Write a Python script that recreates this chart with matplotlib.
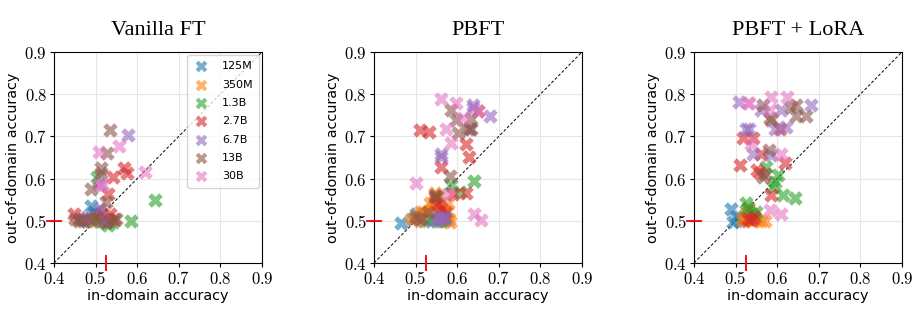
import matplotlib
matplotlib.use("Agg")
import matplotlib.pyplot as plt
import numpy as np

plt.rcParams["mathtext.fontset"] = "cm"

models = ["125M", "350M", "1.3B", "2.7B", "6.7B", "13B", "30B"]
titles = ["Vanilla FT", "PBFT", "PBFT + LoRA"]
ref_x = 0.525
ref_y = 0.5

# ---- Vanilla FT ----
v_125m_x = [0.49, 0.495, 0.50, 0.48, 0.51, 0.52, 0.50]
v_125m_y = [0.535, 0.52, 0.51, 0.50, 0.50, 0.505, 0.515]
v_350m_x = [0.50, 0.515, 0.52, 0.53, 0.51, 0.49]
v_350m_y = [0.51, 0.505, 0.50, 0.505, 0.50, 0.50]
v_13b_x = [0.504, 0.642, 0.586, 0.526, 0.542, 0.515, 0.53, 0.50]
v_13b_y = [0.604, 0.550, 0.500, 0.495, 0.497, 0.50, 0.49, 0.505]
v_27b_x = [0.568, 0.576, 0.542, 0.530, 0.514, 0.449, 0.46, 0.535, 0.545, 0.525]
v_27b_y = [0.625, 0.612, 0.604, 0.564, 0.517, 0.515, 0.505, 0.515, 0.505, 0.50]
v_67b_x = [0.578, 0.507, 0.510, 0.48, 0.47, 0.52]
v_67b_y = [0.704, 0.586, 0.529, 0.51, 0.505, 0.50]
v_13bb_x = [0.535, 0.527, 0.513, 0.513, 0.488, 0.524, 0.45, 0.46, 0.47, 0.49, 0.535, 0.55, 0.50]
v_13bb_y = [0.714, 0.661, 0.624, 0.613, 0.576, 0.545, 0.505, 0.50, 0.50, 0.505, 0.50, 0.505, 0.51]
v_30b_x = [0.556, 0.509, 0.618, 0.518, 0.512]
v_30b_y = [0.676, 0.662, 0.616, 0.584, 0.585]

# ---- PBFT ----
p_125m_x = [0.465, 0.494, 0.51, 0.52, 0.50, 0.53]
p_125m_y = [0.495, 0.503, 0.51, 0.50, 0.515, 0.505]
p_350m_x = [0.49, 0.50, 0.51, 0.52, 0.53, 0.54, 0.55, 0.56, 0.57, 0.58, 0.518, 0.535, 0.547, 0.554, 0.578, 0.545, 0.56, 0.575, 0.51, 0.583]
p_350m_y = [0.505, 0.51, 0.52, 0.515, 0.52, 0.53, 0.55, 0.51, 0.50, 0.505, 0.521, 0.542, 0.566, 0.556, 0.542, 0.52, 0.525, 0.52, 0.50, 0.497]
p_13b_x = [0.586, 0.640, 0.606, 0.550, 0.555, 0.54, 0.56, 0.57]
p_13b_y = [0.584, 0.594, 0.568, 0.556, 0.50, 0.505, 0.50, 0.51]
p_27b_x = [0.510, 0.532, 0.621, 0.629, 0.560, 0.621, 0.590, 0.546, 0.56, 0.57, 0.565, 0.555, 0.650]
p_27b_y = [0.714, 0.711, 0.681, 0.651, 0.628, 0.566, 0.564, 0.556, 0.53, 0.52, 0.51, 0.54, 0.759]
p_67b_x = [0.638, 0.638, 0.678, 0.630, 0.562, 0.562, 0.555, 0.56, 0.565, 0.55, 0.57]
p_67b_y = [0.774, 0.767, 0.748, 0.718, 0.657, 0.650, 0.51, 0.505, 0.51, 0.50, 0.505]
p_13bb_x = [0.586, 0.598, 0.634, 0.602, 0.625, 0.582, 0.546, 0.53, 0.50, 0.51, 0.634]
p_13bb_y = [0.762, 0.738, 0.742, 0.708, 0.718, 0.607, 0.560, 0.52, 0.51, 0.505, 0.718]
p_30b_x = [0.560, 0.597, 0.614, 0.573, 0.585, 0.502, 0.578, 0.640, 0.658, 0.65]
p_30b_y = [0.789, 0.779, 0.744, 0.718, 0.685, 0.590, 0.564, 0.517, 0.501, 0.76]

# ---- PBFT + LoRA ----
l_125m_x = [0.490, 0.494, 0.50, 0.51, 0.52]
l_125m_y = [0.529, 0.497, 0.51, 0.50, 0.505]
l_350m_x = [0.52, 0.53, 0.54, 0.55, 0.56, 0.57, 0.525, 0.535, 0.545, 0.53, 0.515]
l_350m_y = [0.50, 0.505, 0.50, 0.505, 0.50, 0.50, 0.515, 0.52, 0.51, 0.53, 0.505]
l_13b_x = [0.574, 0.602, 0.594, 0.590, 0.614, 0.642, 0.526, 0.549, 0.53, 0.54]
l_13b_y = [0.627, 0.608, 0.592, 0.580, 0.560, 0.555, 0.541, 0.521, 0.53, 0.515]
l_27b_x = [0.606, 0.518, 0.542, 0.562, 0.510, 0.618, 0.552, 0.558, 0.586, 0.538, 0.545, 0.53]
l_27b_y = [0.718, 0.696, 0.696, 0.659, 0.633, 0.637, 0.620, 0.612, 0.560, 0.501, 0.51, 0.505]
l_67b_x = [0.509, 0.562, 0.610, 0.682, 0.526, 0.533, 0.594, 0.622, 0.542, 0.586]
l_67b_y = [0.782, 0.763, 0.763, 0.774, 0.718, 0.718, 0.718, 0.721, 0.657, 0.655]
l_13bb_x = [0.566, 0.634, 0.646, 0.646, 0.670, 0.582, 0.586, 0.581, 0.566, 0.57]
l_13bb_y = [0.775, 0.770, 0.774, 0.748, 0.748, 0.744, 0.738, 0.668, 0.604, 0.61]
l_30b_x = [0.533, 0.586, 0.624, 0.582, 0.537, 0.610, 0.582, 0.610, 0.53]
l_30b_y = [0.779, 0.793, 0.793, 0.763, 0.683, 0.659, 0.525, 0.515, 0.78]

panels = [
    [(v_125m_x, v_125m_y), (v_350m_x, v_350m_y), (v_13b_x, v_13b_y), (v_27b_x, v_27b_y),
     (v_67b_x, v_67b_y), (v_13bb_x, v_13bb_y), (v_30b_x, v_30b_y)],
    [(p_125m_x, p_125m_y), (p_350m_x, p_350m_y), (p_13b_x, p_13b_y), (p_27b_x, p_27b_y),
     (p_67b_x, p_67b_y), (p_13bb_x, p_13bb_y), (p_30b_x, p_30b_y)],
    [(l_125m_x, l_125m_y), (l_350m_x, l_350m_y), (l_13b_x, l_13b_y), (l_27b_x, l_27b_y),
     (l_67b_x, l_67b_y), (l_13bb_x, l_13bb_y), (l_30b_x, l_30b_y)],
]

colors = plt.rcParams["axes.prop_cycle"].by_key()["color"]
ticks = [0.4, 0.5, 0.6, 0.7, 0.8, 0.9]

fig = plt.figure(figsize=(9.14, 3.09), dpi=100)
lefts = [0.0591, 0.4092, 0.7593]
for i, (left, data, title) in enumerate(zip(lefts, panels, titles)):
    ax = fig.add_axes([left, 0.149, 0.2276, 0.683])
    ax.grid(True, color="#e6e6e6", linewidth=0.8, zorder=0)
    ax.set_axisbelow(True)
    ax.plot([0.4, 0.9], [0.4, 0.9], "k--", linewidth=0.7, dashes=(3, 2), zorder=1)
    for j, (xs, ys) in enumerate(data):
        ax.scatter(xs, ys, marker="X", s=110, color=colors[j], alpha=0.6,
                   linewidths=0, label=models[j], zorder=2)
    ax.set_xlim(0.4, 0.9)
    ax.set_ylim(0.4, 0.9)
    ax.set_xticks(ticks)
    ax.set_yticks(ticks)
    ax.set_xticklabels([f"${t:.1f}$" for t in ticks], fontsize=12)
    ax.set_yticklabels([f"${t:.1f}$" for t in ticks], fontsize=12)
    ax.tick_params(length=3, width=0.8, pad=2)
    ax.set_xlabel("in-domain accuracy", fontsize=10.4, labelpad=1)
    ax.set_ylabel("out-of-domain accuracy", fontsize=10.4, labelpad=3)
    ax.set_title(title, family="Liberation Serif", fontsize=16, pad=12)
    ax.plot([ref_x], [0.4], marker="|", color="red", markersize=12, mew=1.3,
            clip_on=False, zorder=5)
    ax.plot([0.4], [ref_y], marker="_", color="red", markersize=12, mew=1.3,
            clip_on=False, zorder=5)
    if i == 0:
        ax.legend(loc="upper right", fontsize=8, markerscale=0.8, labelspacing=0.75,
                  handlelength=1.2, handletextpad=1.3, borderpad=0.6,
                  borderaxespad=0.25, framealpha=0.8)

fig.savefig("out.png", dpi=100)
